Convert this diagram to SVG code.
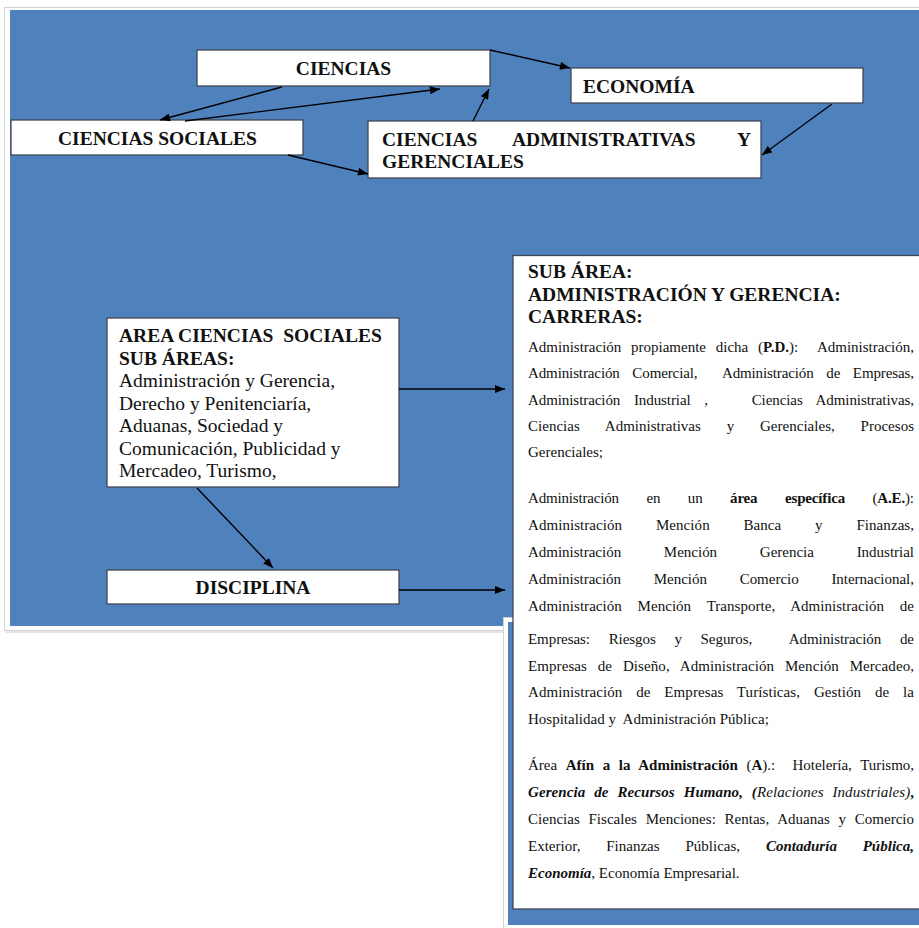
<svg xmlns="http://www.w3.org/2000/svg" width="919" height="928" viewBox="0 0 919 928">
<style>
.frame{fill:#fff;stroke:#d2d2d2;stroke-width:1}
.bg{fill:#4f81bd}
.box{fill:#fff;stroke:#3f4855;stroke-width:1.3}
.h{font-family:"Liberation Serif","Times New Roman",serif;font-weight:bold;font-size:19.5px;fill:#111}
.r{font-family:"Liberation Serif","Times New Roman",serif;font-size:19.5px;fill:#111}
.s{font-family:"Liberation Serif","Times New Roman",serif;font-size:15px;fill:#111}
.b{font-weight:bold}
.i{font-style:italic}
#connectors line{stroke:#000;stroke-width:1.4;marker-end:url(#ah)}
</style>
<defs>
<marker id="ah" markerUnits="userSpaceOnUse" viewBox="0 0 10 8" refX="10" refY="4" markerWidth="11" markerHeight="8" orient="auto">
<path d="M0,0 L10,4 L0,8 z" fill="#000"/>
</marker>
</defs>
<rect width="919" height="928" fill="#fff"/>
<line x1="6" y1="632" x2="919" y2="632" stroke="#e4e4e4" stroke-width="2"/>
<rect class="frame" x="4.5" y="7.5" width="930" height="623"/>
<rect class="bg" x="10" y="10" width="909" height="616"/>
<rect class="frame" x="503.5" y="617.5" width="430" height="320"/>
<rect class="bg" x="508" y="622" width="411" height="303"/>

<g id="ciencias">
<rect class="box" x="197" y="50" width="293" height="36"/>
<text class="h" x="343.5" y="75" text-anchor="middle">CIENCIAS</text>
</g>
<g id="ciencias-sociales">
<rect class="box" x="11" y="120" width="292" height="35"/>
<text class="h" x="58" y="145">CIENCIAS SOCIALES</text>
</g>
<g id="economia">
<rect class="box" x="571" y="68" width="292" height="35"/>
<text class="h" x="583" y="93">ECONOMÍA</text>
</g>
<g id="ciencias-administrativas">
<rect class="box" x="368" y="121" width="393" height="57"/>
<text class="h" y="146"><tspan x="382">CIENCIAS</tspan><tspan x="512">ADMINISTRATIVAS</tspan><tspan x="737">Y</tspan></text>
<text class="h" x="382" y="168">GERENCIALES</text>
</g>
<g id="area-ciencias-sociales">
<rect class="box" x="107" y="318" width="292" height="169"/>
<text class="h" x="119" y="342">AREA CIENCIAS&#160; SOCIALES</text>
<text class="h" x="119" y="365">SUB ÁREAS:</text>
<text class="r" x="119" y="387">Administración y Gerencia,</text>
<text class="r" x="119" y="410">Derecho y Penitenciaría,</text>
<text class="r" x="119" y="432">Aduanas, Sociedad y</text>
<text class="r" x="119" y="455">Comunicación, Publicidad y</text>
<text class="r" x="119" y="477">Mercadeo, Turismo,</text>
</g>
<g id="disciplina">
<rect class="box" x="107" y="570" width="292" height="34"/>
<text class="h" x="253" y="594" text-anchor="middle">DISCIPLINA</text>
</g>
<g id="sub-area">
<rect class="box" x="513" y="255.5" width="420" height="653.5"/>
<text class="h" x="528" y="278">SUB ÁREA:</text>
<text class="h" x="528" y="301">ADMINISTRACIÓN Y GERENCIA:</text>
<text class="h" x="528" y="323">CARRERAS:</text>
<text class="s" x="528" y="352" textLength="386" lengthAdjust="spacing" word-spacing="6">Administración propiamente dicha (<tspan class="b">P.D.</tspan>):&#160; Administración,</text>
<text class="s" x="528" y="378" textLength="386" lengthAdjust="spacing" word-spacing="9">Administración Comercial,&#160; Administración de Empresas,</text>
<text class="s" x="528" y="405" textLength="386" lengthAdjust="spacing" word-spacing="10">Administración Industrial ,<tspan dx="30"> Ciencias</tspan> Administrativas,</text>
<text class="s" x="528" y="431" textLength="386" lengthAdjust="spacing" word-spacing="22">Ciencias Administrativas y Gerenciales, Procesos</text>
<text class="s" x="528" y="457">Gerenciales;</text>
<text class="s" x="528" y="503" textLength="386" lengthAdjust="spacing" word-spacing="24">Administración en un <tspan class="b">área específica</tspan> (<tspan class="b">A.E.</tspan>):</text>
<text class="s" x="528" y="530" textLength="386" lengthAdjust="spacing" word-spacing="30">Administración Mención Banca y Finanzas,</text>
<text class="s" x="528" y="557" textLength="386" lengthAdjust="spacing" word-spacing="39">Administración Mención Gerencia Industrial</text>
<text class="s" x="528" y="584" textLength="386" lengthAdjust="spacing" word-spacing="29">Administración Mención Comercio Internacional,</text>
<text class="s" x="528" y="611" textLength="386" lengthAdjust="spacing" word-spacing="12">Administración Mención Transporte, Administración de</text>
<text class="s" x="528" y="644" textLength="386" lengthAdjust="spacing" word-spacing="15">Empresas: Riesgos y Seguros,&#160; Administración de</text>
<text class="s" x="528" y="671" textLength="386" lengthAdjust="spacing" word-spacing="7">Empresas de Diseño, Administración Mención Mercadeo,</text>
<text class="s" x="528" y="697" textLength="386" lengthAdjust="spacing" word-spacing="10">Administración de Empresas Turísticas, Gestión de la</text>
<text class="s" x="528" y="724">Hospitalidad y&#160; Administración Pública;</text>
<text class="s" x="528" y="770" textLength="386" lengthAdjust="spacing" word-spacing="5">Área <tspan class="b">Afín a la Administración</tspan> (<tspan class="b">A</tspan>).:&#160; Hotelería, Turismo,</text>
<text class="s" x="528" y="797" textLength="386" lengthAdjust="spacing" word-spacing="5"><tspan class="b i">Gerencia de Recursos Humano, (</tspan><tspan class="i">Relaciones Industriales)</tspan><tspan class="b">,</tspan></text>
<text class="s" x="528" y="824" textLength="386" lengthAdjust="spacing" word-spacing="5">Ciencias Fiscales Menciones: Rentas, Aduanas y Comercio</text>
<text class="s" x="528" y="851" textLength="386" lengthAdjust="spacing" word-spacing="22">Exterior, Finanzas Públicas, <tspan class="b i">Contaduría Pública,</tspan></text>
<text class="s" x="528" y="878"><tspan class="b i">Economía</tspan>, Economía Empresarial.</text>
</g>
<g id="connectors">
<line x1="282" y1="87" x2="160" y2="120"/>
<line x1="185" y1="121" x2="440" y2="89"/>
<line x1="288" y1="155" x2="368" y2="174"/>
<line x1="490" y1="50" x2="570" y2="68"/>
<line x1="473" y1="121" x2="489" y2="89"/>
<line x1="832" y1="104" x2="762" y2="155"/>
<line x1="399" y1="389" x2="505" y2="389"/>
<line x1="197" y1="488" x2="273" y2="568"/>
<line x1="399" y1="590" x2="505" y2="590"/>
</g>
</svg>
